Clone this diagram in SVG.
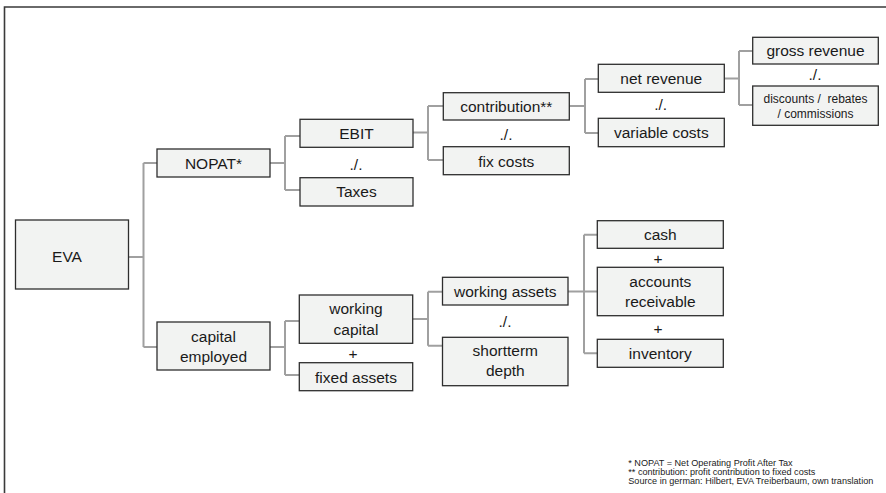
<svg xmlns="http://www.w3.org/2000/svg" width="886" height="493" viewBox="0 0 886 493">
<style>
.bg{fill:#ffffff}
.frame{fill:none;stroke:#3a3a3a;stroke-width:1.6}
.box{fill:#f2f3f2;stroke:#2e2e2e;stroke-width:1.3}
.conn{fill:none;stroke:#a0a0a0;stroke-width:2}
.t{font-family:"Liberation Sans",Arial,sans-serif;font-size:15.5px;fill:#1a1a1a;text-anchor:middle}
.s{font-family:"Liberation Sans",Arial,sans-serif;font-size:12px;fill:#1a1a1a;text-anchor:middle;white-space:pre}
.op{font-family:"Liberation Sans",Arial,sans-serif;font-size:15.5px;fill:#1a1a1a;text-anchor:middle}
.note{font-family:"Liberation Sans",Arial,sans-serif;font-size:9.1px;fill:#1a1a1a}
</style>
<rect class="bg" x="0" y="0" width="886" height="493"/>
<path class="frame" d="M4.5,493 V7 H886"/>
<g id="connectors">
<path class="conn" d="M128,257 H143.5 M143.5,163 V347 M143.5,163 H157 M143.5,347 H157"/>
<path class="conn" d="M270,163 H285 M285,136 V190 M285,136 H300 M285,190 H300"/>
<path class="conn" d="M413,132.5 H428 M428,106 V160 M428,106 H443 M428,160 H443"/>
<path class="conn" d="M569,106 H585 M585,79 V133 M585,79 H598 M585,133 H598"/>
<path class="conn" d="M724,78.5 H739 M739,51 V105 M739,51 H753 M739,105 H753"/>
<path class="conn" d="M270,347 H285 M285,321 V375 M285,321 H299 M285,375 H299"/>
<path class="conn" d="M413,319 H428 M428,291.7 V345.7 M428,291.7 H442.5 M428,345.7 H442.5"/>
<path class="conn" d="M568,291.5 H597 M584,234.7 V353.3 M584,234.7 H597 M584,353.3 H597"/>
</g>
<g id="eva"><rect class="box" x="15.5" y="220" width="113" height="69"/><text class="t" x="67" y="262">EVA</text></g>
<g id="nopat"><rect class="box" x="157" y="149" width="113" height="28"/><text class="t" x="213.5" y="169">NOPAT*</text></g>
<g id="capital-employed"><rect class="box" x="157" y="322" width="113" height="48"/><text class="t" x="213.5" y="341.5">capital</text><text class="t" x="213.5" y="361.5">employed</text></g>
<g id="ebit"><rect class="box" x="300" y="119.3" width="113" height="28"/><text class="t" x="356.5" y="139">EBIT</text></g>
<text class="op" x="356" y="170">./.</text>
<g id="taxes"><rect class="box" x="300" y="177.7" width="113" height="28.3"/><text class="t" x="356.5" y="197">Taxes</text></g>
<g id="contribution"><rect class="box" x="443.3" y="92.7" width="126" height="27.3"/><text class="t" x="506.3" y="111.5">contribution**</text></g>
<text class="op" x="506" y="140">./.</text>
<g id="fix-costs"><rect class="box" x="443.3" y="146.7" width="126" height="28"/><text class="t" x="506.3" y="166.5">fix costs</text></g>
<g id="net-revenue"><rect class="box" x="598.3" y="64.3" width="126" height="28"/><text class="t" x="661.3" y="84">net revenue</text></g>
<text class="op" x="660.7" y="110">./.</text>
<g id="variable-costs"><rect class="box" x="598.3" y="118.3" width="126" height="28.4"/><text class="t" x="661.3" y="138">variable costs</text></g>
<g id="gross-revenue"><rect class="box" x="752.7" y="37.3" width="125.6" height="26.7"/><text class="t" x="815.5" y="56">gross revenue</text></g>
<text class="op" x="815" y="80">./.</text>
<g id="discounts"><rect class="box" x="752.7" y="86" width="125.6" height="39.3"/><text class="s" x="815.5" y="102.5">discounts /  rebates</text><text class="s" x="815.5" y="118">/ commissions</text></g>
<g id="working-capital"><rect class="box" x="299.3" y="295" width="113.4" height="48.3"/><text class="t" x="356" y="314">working</text><text class="t" x="356" y="334.5">capital</text></g>
<text class="op" x="353" y="359">+</text>
<g id="fixed-assets"><rect class="box" x="299.3" y="362.7" width="113.4" height="28"/><text class="t" x="356" y="382.5">fixed assets</text></g>
<g id="working-assets"><rect class="box" x="442.5" y="277.3" width="125.5" height="27.7"/><text class="t" x="505.3" y="296.5">working assets</text></g>
<text class="op" x="505" y="326.5">./.</text>
<g id="shortterm-depth"><rect class="box" x="442.5" y="337.3" width="125.5" height="48.4"/><text class="t" x="505.3" y="355.5">shortterm</text><text class="t" x="505.3" y="375.5">depth</text></g>
<g id="cash"><rect class="box" x="597.3" y="220.7" width="126" height="27.6"/><text class="t" x="660.3" y="240">cash</text></g>
<text class="op" x="658" y="263.5">+</text>
<g id="accounts-receivable"><rect class="box" x="597.3" y="267.3" width="126" height="48.4"/><text class="t" x="660.3" y="287">accounts</text><text class="t" x="660.3" y="306.5">receivable</text></g>
<text class="op" x="658" y="333.5">+</text>
<g id="inventory"><rect class="box" x="597.3" y="339.3" width="126" height="28"/><text class="t" x="660.3" y="359">inventory</text></g>
<g id="notes">
<text class="note" x="628.3" y="466">* NOPAT = Net Operating Profit After Tax</text>
<text class="note" x="628.3" y="475">** contribution: profit contribution to fixed costs</text>
<text class="note" x="628.3" y="484">Source in german: Hilbert, EVA Treiberbaum, own translation</text>
</g>
</svg>
